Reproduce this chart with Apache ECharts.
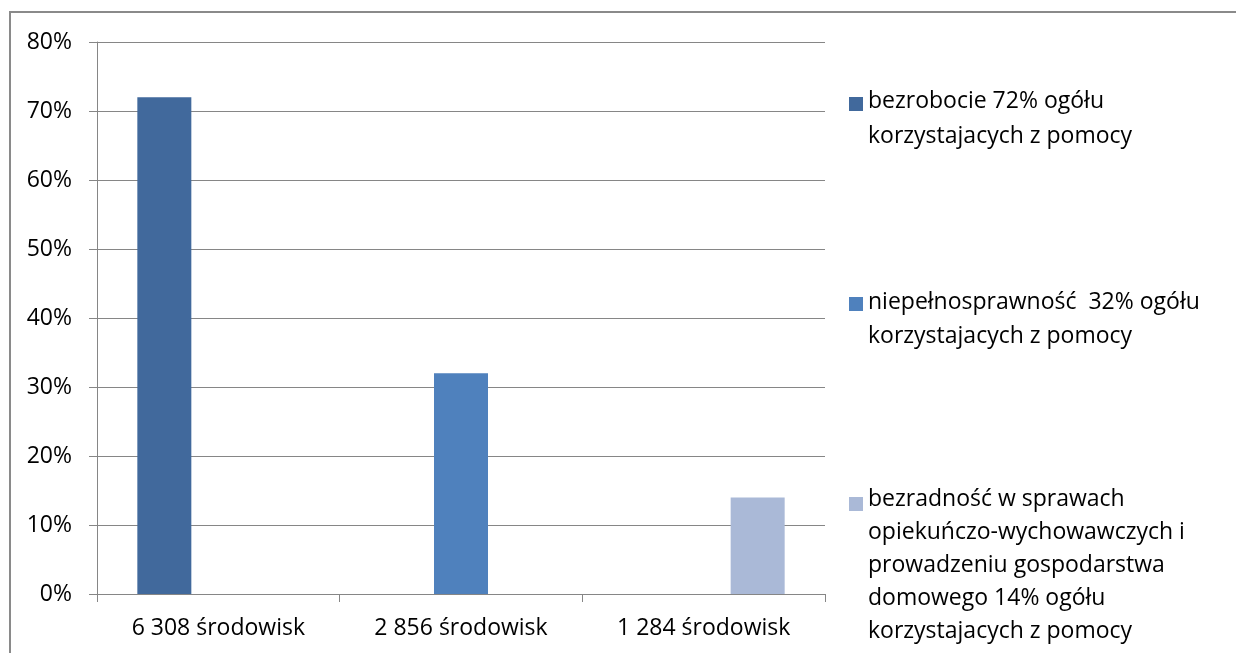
<!DOCTYPE html>
<html>
<head>
<meta charset="utf-8">
<script src="https://cdn.jsdelivr.net/npm/echarts@6/dist/echarts.min.js"></script>
<style>
html,body{margin:0;padding:0;background:#fff;}
#c{width:1236px;height:653px;}
</style>
</head>
<body>
<div id="c"></div>
<script>
const categories = ['6 308 środowisk', '2 856 środowisk', '1 284 środowisk'];
const seriesNames = [
  'bezrobocie 72% ogółu\nkorzystajacych z pomocy',
  'niepełnosprawność  32% ogółu\nkorzystajacych z pomocy',
  'bezradność w sprawach\nopiekuńczo-wychowawczych i\nprowadzeniu gospodarstwa\ndomowego 14% ogółu\nkorzystajacych z pomocy'
];
const values = [72, 32, 14];
const colors = ['#41699C', '#4F81BD', '#AAB9D7'];
const yTicks = [0, 10, 20, 30, 40, 50, 60, 70, 80];

const FONT = 'Open Sans';
const FS = 23;
const legendLineHeights = [35, 34, 33];
const legendFirstLineCenters = [96, 297, 494];
const legendIconShift = [3, 2, 5];

const chart = echarts.init(document.getElementById('c'));
const series = seriesNames.map((name, i) => ({
  name: name,
  type: 'bar',
  barWidth: 54,
  barGap: '0%',
  itemStyle: { color: colors[i] },
  data: categories.map((c, j) => (j === i ? values[i] : null))
}));
const legends = seriesNames.map((name, i) => {
  const LH = legendLineHeights[i];
  const n = name.split('\n').length;
  const H = n * LH;
  const sq = 14;
  const y0 = LH / 2 - sq / 2 + legendIconShift[i];
  // square aligned with the first text line; invisible bounds keep the full item height
  const icon = 'path://M0,0 L0,0 M0,' + H + ' L0,' + H +
    ' M0,' + y0 + ' L' + sq + ',' + y0 + ' L' + sq + ',' + (y0 + sq) + ' L0,' + (y0 + sq) + ' Z';
  return {
    orient: 'vertical',
    left: 844,
    top: legendFirstLineCenters[i] - LH / 2,
    itemWidth: sq,
    itemHeight: H,
    itemGap: 0,
    icon: icon,
    data: [name],
    selectedMode: false,
    textStyle: { fontFamily: FONT, fontSize: FS, color: '#000', lineHeight: LH }
  };
});

chart.setOption({
  animation: false,
  textStyle: { fontFamily: FONT },
  graphic: [{
    type: 'rect',
    shape: { x: 10, y: 12, width: 1400, height: 800 },
    style: { fill: 'none', stroke: '#8a8a8a', lineWidth: 2 },
    silent: true
  }],
  legend: legends,
  grid: { left: 97, right: 411, top: 42, bottom: 59, containLabel: false },
  xAxis: {
    type: 'category',
    data: categories,
    axisLine: { show: true, lineStyle: { color: '#868686', width: 1 } },
    axisTick: { show: true, length: 8, lineStyle: { color: '#868686' } },
    axisLabel: { fontFamily: FONT, fontSize: FS, color: '#000', margin: 23 }
  },
  yAxis: {
    type: 'value',
    min: yTicks[0],
    max: yTicks[yTicks.length - 1],
    interval: 10,
    axisLine: { show: true, lineStyle: { color: '#868686', width: 1 } },
    axisTick: { show: true, length: 8, lineStyle: { color: '#868686' } },
    splitLine: { show: true, lineStyle: { color: '#868686', width: 1 } },
    axisLabel: { fontFamily: FONT, fontSize: FS, color: '#000', margin: 25, formatter: '{value}%' }
  },
  series: series
});
</script>
</body>
</html>
